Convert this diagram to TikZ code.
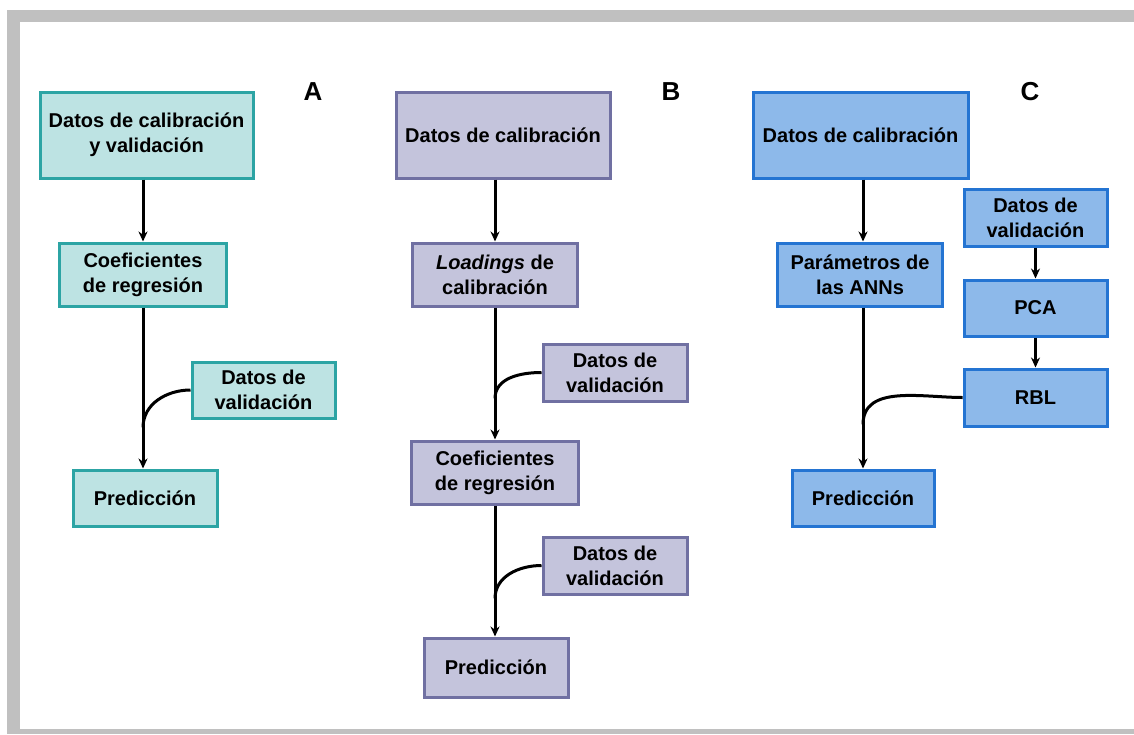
\documentclass[tikz,border=0pt]{standalone}
\usepackage{fontspec}
\setmainfont{Liberation Sans}
\usetikzlibrary{arrows.meta,calc,positioning}

\definecolor{framegray}{RGB}{192,192,192}
\definecolor{tealfill}{RGB}{189,227,227}
\definecolor{tealline}{RGB}{44,164,164}
\definecolor{lilafill}{RGB}{196,196,220}
\definecolor{lilaline}{RGB}{112,112,162}
\definecolor{bluefill}{RGB}{141,185,234}
\definecolor{blueline}{RGB}{36,116,210}

\begin{document}
\begin{tikzpicture}[x=1pt,y=-1pt,
  every node/.style={font=\fontsize{20}{25}\selectfont\bfseries},
  abox/.style={draw=tealline,fill=tealfill,line width=3pt,align=center,inner sep=0pt},
  bbox/.style={draw=lilaline,fill=lilafill,line width=3pt,align=center,inner sep=0pt},
  cbox/.style={draw=blueline,fill=bluefill,line width=3pt,align=center,inner sep=0pt},
  flecha/.style={line width=3pt,-{Stealth[length=10pt,width=9pt]}},
  enlace/.style={line width=3pt},
  letra/.style={font=\fontsize{26}{30}\selectfont\bfseries}
]
\useasboundingbox (0,0) rectangle (1134,734);

% marco gris
\fill[framegray] (7,10) rectangle (1134,22);
\fill[framegray] (7,10) rectangle (20,734);
\fill[framegray] (7,729) rectangle (1134,734);

% columna A
\node[letra] (la) at (313,92) {A};
\node[abox,minimum width=213,minimum height=86] (a1) at (146.5,135) {Datos de calibración\\y validación};
\node[abox,minimum width=167,minimum height=63] (a2) at (143,274.5) {Coeficientes\\de regresión};
\node[abox,minimum width=143,minimum height=56] (a3) at (263.5,390) {Datos de\\validación};
\node[abox,minimum width=144,minimum height=56] (a4) at (145,498) {Predicción};
\draw[flecha] (a2.north |- a1.south) -- (a2.north);
\draw[flecha] (a2.south) -- (a2.south |- a4.north);
\coordinate (ja) at ($(a2.south |- a3.south)+(0,8)$);
\draw[enlace] (a3.west) to[out=180,in=90] (ja);

% columna B
\node[letra] (lb) at (671,92) {B};
\node[bbox,minimum width=214,minimum height=86] (b1) at (503,135) {Datos de calibración};
\node[bbox,minimum width=165,minimum height=63] (b2) at (495,274.5) {\textit{Loadings} de\\calibración};
\node[bbox,minimum width=144,minimum height=57] (b3) at (615,372.5) {Datos de\\validación};
\node[bbox,minimum width=167,minimum height=63] (b4) at (495,472.5) {Coeficientes\\de regresión};
\node[bbox,minimum width=144,minimum height=57] (b5) at (615,565.5) {Datos de\\validación};
\node[bbox,minimum width=144,minimum height=59] (b6) at (496,667.5) {Predicción};
\draw[flecha] (b2.north |- b1.south) -- (b2.north);
\draw[flecha] (b2.south) -- (b2.south |- b4.north);
\draw[flecha] (b4.south) -- (b4.south |- b6.north);
\coordinate (jb1) at ($(b2.south |- b3.south)+(0,-4)$);
\coordinate (jb2) at ($(b4.south |- b5.south)+(0,3)$);
\draw[enlace] (b3.west) to[out=180,in=90] (jb1);
\draw[enlace] (b5.west) to[out=180,in=90] (jb2);

% columna C
\node[letra] (lc) at (1030,92) {C};
\node[cbox,minimum width=215,minimum height=86] (c1) at (860.5,135) {Datos de calibración};
\node[cbox,minimum width=165,minimum height=63] (c2) at (860,274.5) {Parámetros de\\las ANNs};
\node[cbox,minimum width=143,minimum height=57] (c3) at (1035.5,217.5) {Datos de\\validación};
\node[cbox,minimum width=143,minimum height=56] (c4) at (1035.5,308) {PCA};
\node[cbox,minimum width=143,minimum height=57] (c5) at (1035.5,397.5) {RBL};
\node[cbox,minimum width=142,minimum height=56] (c6) at (863,498) {Predicción};
\draw[flecha] (c6.north |- c1.south) -- (c6.north |- c2.north);
\draw[flecha] (c6.north |- c2.south) -- (c6.north);
\draw[flecha] (c3.south) -- (c4.north);
\draw[flecha] (c4.south) -- (c5.north);
\coordinate (jc) at ($(c6.north |- c5.south)+(0,-3)$);
\draw[enlace] (c5.west) to[out=180,in=90] (jc);
\end{tikzpicture}
\end{document}
